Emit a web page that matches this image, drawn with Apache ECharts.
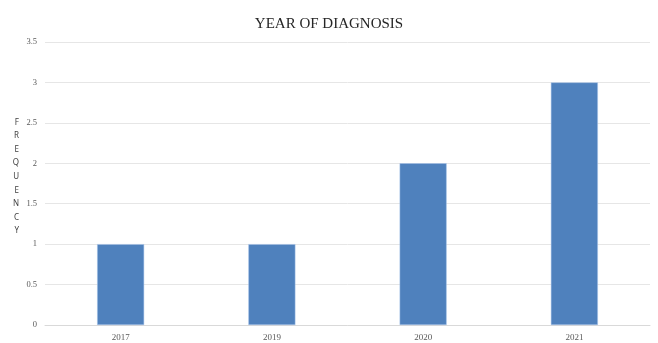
<!DOCTYPE html>
<html>
<head>
<meta charset="utf-8">
<script src="https://cdn.jsdelivr.net/npm/echarts@6/dist/echarts.min.js"></script>
<style>
  html, body { margin: 0; padding: 0; background: #fff; }
  #chart { width: 658px; height: 343px; }
</style>
</head>
<body>
<div id="chart"></div>
<script>
// data
const years = ['2017', '2019', '2020', '2021']
const frequency = [1, 1, 2, 3]
const yTicks = [0, 0.5, 1, 1.5, 2, 2.5, 3, 3.5]

const chart = echarts.init(document.getElementById('chart'))

const serif = '"Liberation Serif", "DejaVu Serif", serif'

chart.setOption({
  animation: false,
  title: {
    text: 'YEAR OF DIAGNOSIS',
    left: 'center',
    top: 12,
    textStyle: { fontFamily: serif, fontSize: 15, fontWeight: 'normal', color: '#262626' }
  },
  grid: { left: 45, right: 8, top: 42, bottom: 18 },
  xAxis: {
    type: 'category',
    data: years,
    axisLine: { lineStyle: { color: '#d9d9d9' } },
    axisTick: { show: false },
    axisLabel: { fontFamily: serif, fontSize: 9, color: '#595959', margin: 8 }
  },
  yAxis: {
    type: 'value',
    min: yTicks[0],
    max: yTicks[yTicks.length - 1],
    interval: 0.5,
    // stacked letters, trailing blank line lifts the block a bit
    name: 'FREQUENCY'.split('').join('\n') + '\n ',
    nameLocation: 'middle',
    nameRotate: 0,
    nameGap: 26,
    nameTextStyle: {
      fontFamily: '"Noto Sans", sans-serif', fontSize: 8, color: '#404040',
      lineHeight: 13.6
    },
    axisLine: { show: false },
    axisTick: { show: false },
    splitLine: { lineStyle: { color: '#e6e6e6' } },
    axisLabel: { fontFamily: serif, fontSize: 8.5, color: '#595959', margin: 8 }
  },
  series: [{
    type: 'bar',
    data: frequency,
    barWidth: 47,
    itemStyle: { color: '#4f81bd', borderColor: '#a9c4ea', borderWidth: 0.5 }
  }]
})
</script>
</body>
</html>
